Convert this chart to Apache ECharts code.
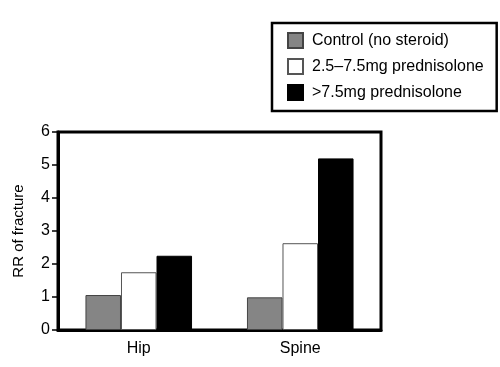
<!DOCTYPE html>
<html><head><meta charset="utf-8">
<script src="https://cdn.jsdelivr.net/npm/echarts@6/dist/echarts.min.js"></script>
<style>html,body{margin:0;padding:0;background:#fff}#c{width:500px;height:367px}</style>
</head><body><div id="c"></div>
<script>
const categories = ['Hip', 'Spine'];
const seriesNames = ['Control (no steroid)', '2.5\u20137.5mg prednisolone', '>7.5mg prednisolone'];
const controlValues = [1.06, 0.99];
const lowDoseValues = [1.75, 2.63];
const highDoseValues = [2.25, 5.2];
const yTicks = [0, 1, 2, 3, 4, 5, 6];

const font = 'Liberation Sans, Arial, Helvetica, sans-serif';
const chart = echarts.init(document.getElementById('c'));
const styles = [
  {color: '#858585', borderColor: '#444', borderWidth: 1},
  {color: '#ffffff', borderColor: '#555', borderWidth: 1},
  {color: '#000000', borderColor: '#000', borderWidth: 1}
];
const values = [controlValues, lowDoseValues, highDoseValues];
chart.setOption({
  animation: false,
  backgroundColor: '#fff',
  textStyle: {fontFamily: font},
  legend: {
    orient: 'vertical',
    left: 272, top: 23,
    borderColor: '#000', borderWidth: 2.5,
    padding: [9, 13, 10, 15],
    itemWidth: 15, itemHeight: 15, itemGap: 9,
    icon: 'rect',
    textStyle: {fontFamily: font, fontSize: 16, color: '#000', padding: [0, 0, 0, 4]},
    data: seriesNames
  },
  grid: {left: 58, top: 132, right: 119, bottom: 37, show: true, borderColor: '#000', borderWidth: 3},
  xAxis: {
    type: 'category', data: categories,
    axisLine: {lineStyle: {color: '#000', width: 3}},
    axisTick: {show: false},
    axisLabel: {color: '#000', fontSize: 16, fontFamily: font, margin: 11}
  },
  yAxis: {
    type: 'value', min: yTicks[0], max: yTicks[yTicks.length - 1], interval: 1,
    name: 'RR of fracture', nameLocation: 'middle', nameGap: 32,
    nameTextStyle: {color: '#000', fontSize: 15, fontFamily: font},
    axisLine: {show: true, lineStyle: {color: '#000', width: 3}},
    axisTick: {show: true, length: 6, lineStyle: {color: '#000', width: 1.5}},
    axisLabel: {color: '#000', fontSize: 16, fontFamily: font, margin: 8},
    splitLine: {show: false}
  },
  series: seriesNames.map((n, i) => ({
    name: n, type: 'bar', data: values[i],
    barGap: '0%', barCategoryGap: '34%',
    itemStyle: styles[i]
  }))
});
</script></body></html>
